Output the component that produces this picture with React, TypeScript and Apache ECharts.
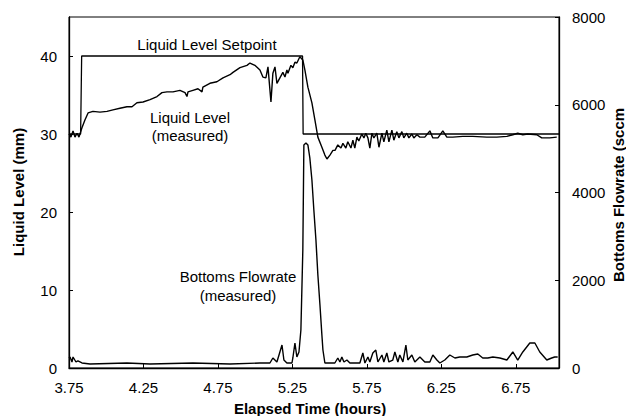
import React, { useEffect, useRef } from "react";
import * as echarts from "echarts";

// Elapsed time (hours) tick labels
const xTicks = [3.75, 4.25, 4.75, 5.25, 5.75, 6.25, 6.75];
const levelTicks = [0, 10, 20, 30, 40];
const flowTicks = [0, 2000, 4000, 6000, 8000];

// Liquid level setpoint (mm) : [hours, mm]
const setpoint: [number, number][] = [
  [3.75, 30], [3.828, 30], [3.835, 40], [5.318, 40], [5.322, 30], [7.04, 30],
];

// Liquid level measured (mm) : [hours, mm]
const levelMeasured: [number, number][] = [
  [3.75, 30.0], [3.763, 29.6], [3.777, 30.4], [3.79, 29.6], [3.804, 30.1], [3.817, 29.6],
  [3.837, 30.8], [3.857, 31.8], [3.878, 32.7], [3.911, 32.9], [3.958, 32.8], [4.005, 32.9],
  [4.045, 33.1], [4.092, 33.3], [4.139, 33.5], [4.173, 33.5], [4.206, 34.0], [4.247, 34.1],
  [4.294, 34.4], [4.341, 34.8], [4.374, 35.3], [4.408, 35.4], [4.448, 35.4], [4.495, 35.6],
  [4.529, 35.3], [4.542, 34.8], [4.549, 35.4], [4.582, 35.6], [4.616, 35.8], [4.643, 35.4],
  [4.649, 36.0], [4.696, 36.5], [4.743, 36.7], [4.784, 37.2], [4.831, 37.6], [4.851, 37.9],
  [4.898, 38.5], [4.945, 38.8], [4.965, 39.1], [4.998, 38.8], [5.032, 38.2], [5.052, 37.3],
  [5.072, 37.2], [5.086, 38.6], [5.106, 34.1], [5.119, 37.8], [5.133, 38.6], [5.146, 36.5],
  [5.166, 37.2], [5.186, 37.9], [5.2, 37.3], [5.213, 38.2], [5.22, 37.8], [5.24, 38.8],
  [5.253, 38.5], [5.267, 39.2], [5.28, 39.1], [5.3, 39.9], [5.32, 39.5], [5.334, 38.2],
  [5.354, 36.0], [5.381, 34.0], [5.401, 31.8], [5.421, 29.6], [5.448, 28.3], [5.468, 27.3],
  [5.482, 26.8], [5.502, 27.3], [5.522, 27.9], [5.536, 27.9], [5.555, 28.6], [5.576, 28.2],
  [5.589, 28.8], [5.609, 28.2], [5.622, 29.0], [5.643, 28.2], [5.656, 29.2], [5.669, 28.2],
  [5.683, 29.6], [5.696, 29.1], [5.716, 30.0], [5.73, 29.5], [5.743, 30.1], [5.757, 29.5],
  [5.77, 28.2], [5.784, 30.1], [5.797, 29.5], [5.817, 30.1], [5.831, 28.3], [5.851, 30.1],
  [5.864, 29.0], [5.884, 30.5], [5.898, 29.0], [5.918, 30.5], [5.931, 29.2], [5.951, 30.3],
  [5.965, 29.5], [5.985, 30.3], [5.998, 29.5], [6.018, 30.1], [6.032, 29.5], [6.052, 30.0],
  [6.065, 29.5], [6.086, 29.9], [6.106, 29.6], [6.139, 29.6], [6.173, 30.4], [6.193, 29.5],
  [6.227, 29.5], [6.26, 30.4], [6.287, 29.6], [6.327, 29.6], [6.394, 29.7], [6.461, 29.7],
  [6.555, 29.6], [6.622, 29.6], [6.69, 29.7], [6.73, 29.9], [6.763, 30.1], [6.797, 29.9],
  [6.83, 30.0], [6.891, 29.9], [6.924, 29.5], [6.978, 29.5], [7.025, 29.6],
];

// Bottoms flowrate measured (sccm) : [hours, sccm]
const flowMeasured: [number, number][] = [
  [3.75, 228], [3.757, 251], [3.77, 137], [3.777, 251], [3.797, 137], [3.81, 160],
  [3.837, 114], [3.891, 91], [4.139, 114], [4.294, 91], [4.582, 114], [4.831, 91],
  [5.032, 114], [5.099, 114], [5.119, 228], [5.146, 137], [5.166, 365], [5.18, 524],
  [5.193, 182], [5.213, 114], [5.247, 114], [5.253, 228], [5.267, 570], [5.28, 251],
  [5.294, 365], [5.307, 866], [5.32, 2690], [5.327, 5084], [5.341, 5130], [5.354, 5084],
  [5.367, 4788], [5.381, 4286], [5.394, 3602], [5.408, 2918], [5.421, 2120], [5.435, 1436],
  [5.448, 752], [5.455, 410], [5.468, 114], [5.488, 114], [5.535, 114], [5.555, 228],
  [5.569, 137], [5.582, 251], [5.596, 137], [5.616, 182], [5.636, 114], [5.703, 114],
  [5.723, 342], [5.737, 114], [5.757, 251], [5.77, 137], [5.79, 342], [5.81, 410],
  [5.824, 137], [5.851, 296], [5.864, 137], [5.884, 342], [5.898, 137], [5.924, 182],
  [5.938, 365], [5.958, 137], [5.971, 296], [5.992, 137], [6.012, 524], [6.025, 182],
  [6.052, 296], [6.072, 137], [6.106, 251], [6.139, 137], [6.173, 137], [6.193, 296],
  [6.22, 182], [6.24, 114], [6.273, 182], [6.307, 296], [6.341, 228], [6.374, 251],
  [6.421, 251], [6.461, 296], [6.495, 319], [6.528, 228], [6.562, 228], [6.596, 251],
  [6.643, 228], [6.69, 182], [6.73, 365], [6.763, 182], [6.797, 365], [6.844, 570],
  [6.878, 570], [6.911, 365], [6.958, 182], [6.991, 228], [7.011, 251], [7.031, 251],
];

const FONT = "Liberation Sans, Arial, Helvetica, sans-serif";

export default function App() {
  const ref = useRef<HTMLDivElement>(null);

  useEffect(() => {
    if (!ref.current) return;
    const chart = echarts.init(ref.current, undefined, { renderer: "svg" });
    const lineStyle = { color: "#000", width: 1.4 };
    const tickLabel = { color: "#000", fontSize: 15, fontFamily: FONT };
    chart.setOption({
      animation: false,
      backgroundColor: "#fff",
      grid: {
        left: 69,
        right: 67,
        top: 17,
        bottom: 48,
        show: true,
        borderColor: "#000",
        borderWidth: 1,
        backgroundColor: "transparent",
      },
      xAxis: {
        type: "value",
        min: 3.75,
        max: 7.04,
        axisLine: { show: true, onZero: false, lineStyle: { color: "#000", width: 1.3 } },
        axisTick: { show: true, inside: true, length: 4, customValues: xTicks, lineStyle: { color: "#000" } },
        axisLabel: {
          ...tickLabel,
          margin: 12,
          customValues: xTicks,
          formatter: (v: number) => v.toFixed(2),
        },
        splitLine: { show: false },
      },
      yAxis: [
        {
          type: "value",
          min: 0,
          max: 45,
          interval: 10,
          position: "left",
          axisLine: { show: true, lineStyle: { color: "#000", width: 1.3 } },
          axisTick: { show: true, inside: true, length: 4, customValues: levelTicks, lineStyle: { color: "#000" } },
          axisLabel: { ...tickLabel, margin: 12, customValues: levelTicks, formatter: (v: number) => String(v) },
          splitLine: { show: false },
        },
        {
          type: "value",
          min: 0,
          max: 8000,
          interval: 2000,
          position: "right",
          axisLine: { show: true, lineStyle: { color: "#000", width: 1.3 } },
          axisTick: { show: true, inside: true, length: 4, customValues: flowTicks, lineStyle: { color: "#000" } },
          axisLabel: { ...tickLabel, margin: 13, customValues: flowTicks, formatter: (v: number) => String(v) },
          splitLine: { show: false },
        },
      ],
      series: [
        {
          name: "Liquid Level Setpoint",
          type: "line",
          yAxisIndex: 0,
          data: setpoint,
          showSymbol: false,
          lineStyle: { ...lineStyle, width: 1.3 },
          silent: true,
        },
        {
          name: "Liquid Level (measured)",
          type: "line",
          yAxisIndex: 0,
          data: levelMeasured,
          showSymbol: false,
          lineStyle,
          silent: true,
        },
        {
          name: "Bottoms Flowrate (measured)",
          type: "line",
          yAxisIndex: 1,
          data: flowMeasured,
          showSymbol: false,
          lineStyle,
          silent: true,
        },
      ],
      graphic: [
        {
          type: "text",
          x: 18,
          y: 192,
          rotation: Math.PI / 2,
          style: {
            text: "Liquid Level (mm)",
            fontSize: 15,
            fontWeight: "bold",
            fontFamily: FONT,
            fill: "#000",
            align: "center",
            verticalAlign: "middle",
          },
        },
        {
          type: "text",
          x: 618,
          y: 195,
          rotation: Math.PI / 2,
          style: {
            text: "Bottoms Flowrate (sccm",
            fontSize: 15,
            fontWeight: "bold",
            fontFamily: FONT,
            fill: "#000",
            align: "center",
            verticalAlign: "middle",
          },
        },
        {
          type: "text",
          x: 310,
          y: 408,
          style: {
            text: "Elapsed Time (hours)",
            fontSize: 15,
            fontWeight: "bold",
            fontFamily: FONT,
            fill: "#000",
            align: "center",
            verticalAlign: "middle",
          },
        },
        {
          type: "text",
          x: 207,
          y: 44,
          style: {
            text: "Liquid Level Setpoint",
            fontSize: 15,
            fontFamily: FONT,
            fill: "#000",
            align: "center",
            verticalAlign: "middle",
          },
        },
        {
          type: "text",
          x: 190,
          y: 126,
          style: {
            text: "Liquid Level\n(measured)",
            fontSize: 15,
            lineHeight: 18,
            fontFamily: FONT,
            fill: "#000",
            align: "center",
            verticalAlign: "middle",
          },
        },
        {
          type: "text",
          x: 238,
          y: 286,
          style: {
            text: "Bottoms Flowrate\n(measured)",
            fontSize: 15,
            lineHeight: 19,
            fontFamily: FONT,
            fill: "#000",
            align: "center",
            verticalAlign: "middle",
          },
        },
      ],
    });
    return () => chart.dispose();
  }, []);

  return (
    <div
      ref={ref}
      style={{ position: "fixed", left: 0, top: 0, width: 626, height: 416, background: "#fff" }}
    />
  );
}
